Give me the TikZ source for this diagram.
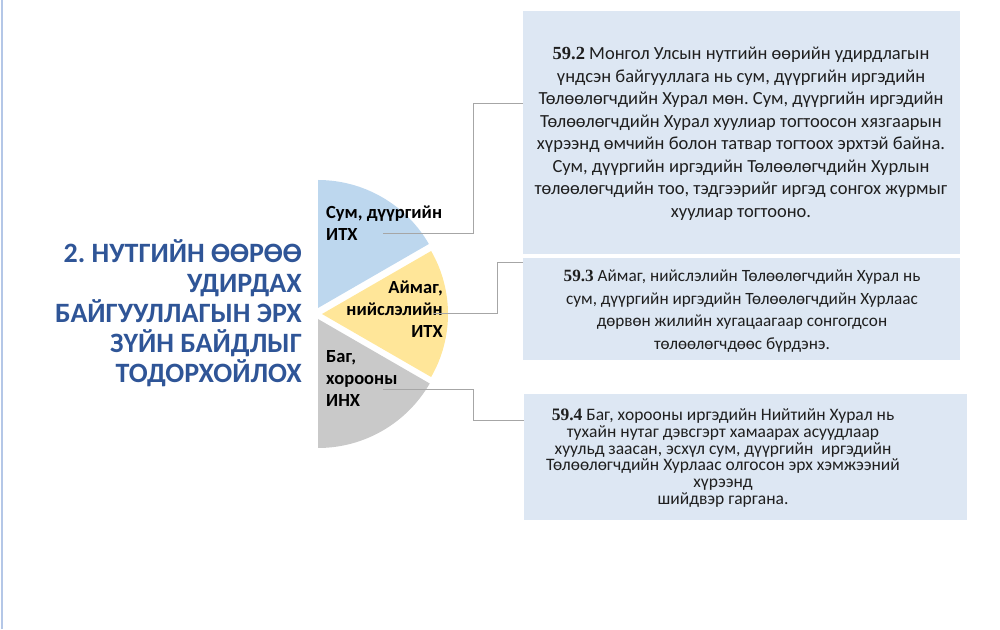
\documentclass[tikz,border=0pt]{standalone}
\usepackage{fontspec}
\setmainfont{Carlito}
\newfontfamily\tnr{Liberation Serif}
\definecolor{boxfill}{HTML}{DDE7F3}
\definecolor{wblue}{HTML}{BDD7EE}
\definecolor{wyellow}{HTML}{FFE699}
\definecolor{wgray}{HTML}{C9C9C9}
\definecolor{titleblue}{HTML}{2F5597}
\definecolor{linegray}{HTML}{A6A6A6}
\definecolor{edgeblue}{HTML}{B4C7E7}
\frenchspacing
\begin{document}
\begin{tikzpicture}[x=1pt,y=1pt,
  boxstyle/.style={fill=boxfill, draw=none, anchor=north west, inner sep=0},
  conn/.style={draw=linegray, line width=0.8pt},
  lbl/.style={font=\fontsize{18.5}{22}\selectfont\bfseries, inner sep=0, text=black},
  txtbig/.style={font=\fontsize{18.5}{22.5}\selectfont, align=center, inner sep=0, text=black!88},
  txt/.style={font=\fontsize{17.2}{22.5}\selectfont, align=center, inner sep=0, text=black!88},
  txtsmall/.style={font=\fontsize{17.5}{16.7}\selectfont, align=center, inner sep=0, text=black!88}]
\useasboundingbox (0,0) rectangle (1000,629);
% left edge line
\draw[edgeblue, line width=1.5pt] (2,0) -- (2,629);
% pie wedges
\fill[wblue] (318,321) -- ++(30:128) arc (30:90:128) -- cycle;
\fill[wyellow] (322,315) -- ++(-30:126) arc (-30:30:126) -- cycle;
\fill[wgray] (318,310) -- ++(-90:129) arc (-90:-30:129) -- cycle;
% boxes
\node[boxstyle, minimum width=437pt, minimum height=243pt] (b1) at (523,618) {};
\node[boxstyle, minimum width=437pt, minimum height=102pt] (b2) at (523,371) {};
\node[boxstyle, minimum width=443pt, minimum height=126pt] (b3) at (524,235) {};
% title
\node[anchor=east, align=right, inner sep=0, text=titleblue,
      font=\fontsize{28}{30}\selectfont\bfseries] (title) at (302,316)
  {2. НУТГИЙН ӨӨРӨӨ\\ УДИРДАХ\\ БАЙГУУЛЛАГЫН ЭРХ\\ ЗҮЙН БАЙДЛЫГ\\ ТОДОРХОЙЛОХ};
% pie labels
\node[lbl, anchor=west, align=left] (l1) at (326,406) {Сум, дүүргийн\\ ИТХ};
\node[lbl, anchor=east, align=right] (l2) at (443,320) {Аймаг,\\ нийслэлийн\\ ИТХ};
\node[lbl, anchor=west, align=left] (l3) at (326,250.5) {Баг,\\ хорооны\\ ИНХ};
% box texts
\node[txtbig] (t1) at (741,495.5) {{\tnr\bfseries 59.2} Монгол Улсын нутгийн өөрийн удирдлагын\\
үндсэн байгууллага нь сум, дүүргийн иргэдийн\\
Төлөөлөгчдийн Хурал мөн. Сум, дүүргийн иргэдийн\\
Төлөөлөгчдийн Хурал хуулиар тогтоосон хязгаарын\\
хүрээнд өмчийн болон татвар тогтоох эрхтэй байна.\\
Сум, дүүргийн иргэдийн Төлөөлөгчдийн Хурлын\\
төлөөлөгчдийн тоо, тэдгээрийг иргэд сонгох журмыг\\
хуулиар тогтооно.};
\node[txt] (t2) at (742,318) {{\tnr\bfseries 59.3} Аймаг, нийслэлийн Төлөөлөгчдийн Хурал нь\\
сум, дүүргийн иргэдийн Төлөөлөгчдийн Хурлаас\\
дөрвөн жилийн хугацаагаар сонгогдсон\\
төлөөлөгчдөөс бүрдэнэ.};
\node[txtsmall] (t3) at (723,171) {{\tnr\bfseries 59.4} Баг, хорооны иргэдийн Нийтийн Хурал нь\\
тухайн нутаг дэвсгэрт хамаарах асуудлаар\\
хуульд заасан, эсхүл сум, дүүргийн\ \ иргэдийн\\
Төлөөлөгчдийн Хурлаас олгосон эрх хэмжээний\\
хүрээнд\\
шийдвэр гаргана.};
% connectors
\coordinate (c1) at (383,396);
\coordinate (c2) at (433,316);
\coordinate (c3) at (383,240);
\draw[conn] (c1) -- (473,396) |- ([yshift=-92pt]b1.north west);
\draw[conn] (c2) -- (497,316) |- ([yshift=-4pt]b2.north west);
\draw[conn] (c3) -- (473,240) |- ([yshift=-26pt]b3.north west);
\end{tikzpicture}
\end{document}
